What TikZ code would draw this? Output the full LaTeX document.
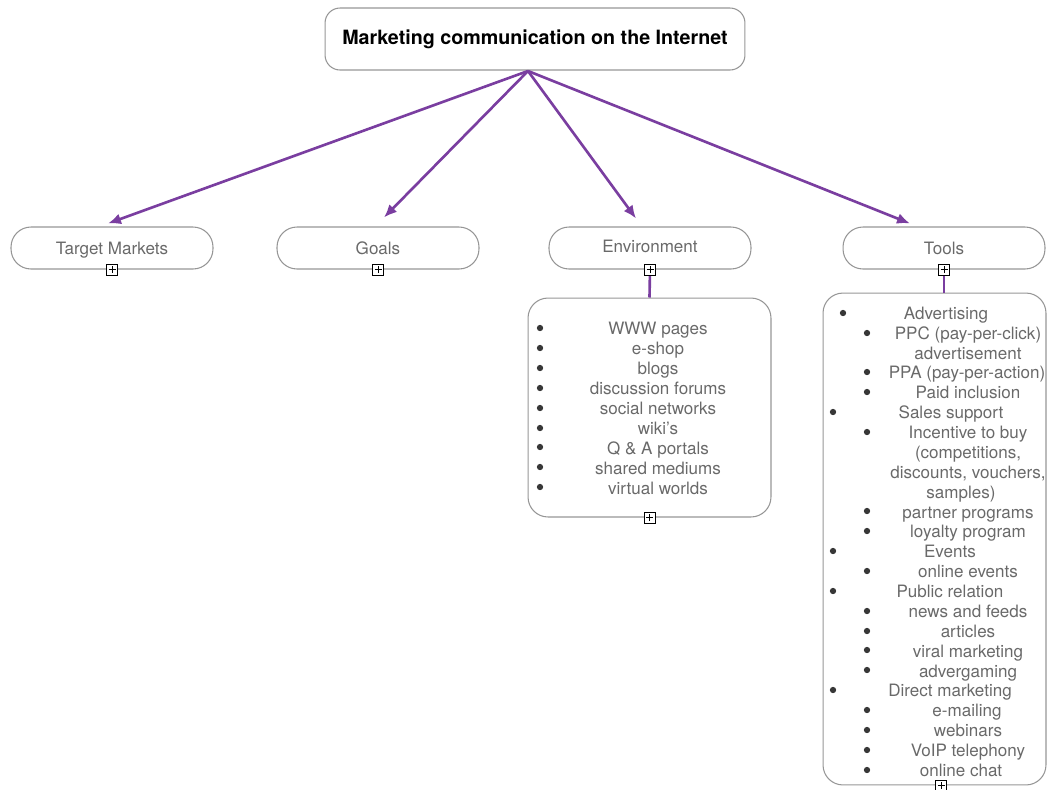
\documentclass[tikz,border=0pt]{standalone}
\usepackage{fontspec}
\setmainfont{TeX Gyre Heros}
\usetikzlibrary{arrows.meta,calc}
\definecolor{mmpurple}{RGB}{122,62,160}
\definecolor{mmtext}{RGB}{105,105,105}
\definecolor{mmline}{RGB}{150,150,150}
\definecolor{mmdot}{RGB}{55,55,55}
\begin{document}
\begin{tikzpicture}[x=0.02cm, y=-0.02cm, font=\fontsize{9.7}{11.3}\selectfont,
  rootbox/.style={draw=mmline, line width=0.6pt, rounded corners=0.3cm, minimum width=8.4cm,
                  minimum height=1.24cm, font=\fontsize{11.2}{13}\selectfont\bfseries},
  catbox/.style={draw=mmline, line width=0.6pt, rounded corners=0.4cm, minimum width=4.04cm,
                 minimum height=0.84cm, text=mmtext, text height=8pt, text depth=1pt},
  listbox/.style={draw=mmline, line width=0.6pt, rounded corners=0.4cm},
  item/.style={text=mmtext, inner sep=0pt, text height=8pt, text depth=0.8pt},
  bul/.style={fill=mmdot},
  plusbox/.style={draw=black, fill=white, minimum size=0.22cm, inner sep=0pt, line width=0.5pt,
                  path picture={\draw[line width=0.5pt]
                    ([xshift=-0.07cm]path picture bounding box.center) -- ++(0.14cm,0)
                    ([yshift=-0.07cm]path picture bounding box.center) -- ++(0,0.14cm);}},
  link/.style={draw=mmpurple, line width=1.5pt},
  arr/.style={link, -{Latex[length=0.26cm, width=0.22cm]}},
]
  \useasboundingbox (0,0) rectangle (1048,789);

  \node[rootbox] (root) at (535,39) {Marketing communication on the Internet};
  \coordinate (hub) at (528,71);

  \node[catbox] (target) at (112,248) {Target Markets};
  \node[catbox] (goals) at (378,248) {Goals};
  \node[catbox] (env) at (650,248) {};
  \node[item] (envlabel) at (650,246) {Environment};
  \node[catbox] (tools) at (944,248) {Tools};

  \draw[arr] (hub) -- ([xshift=-0.08cm,yshift=0.06cm]target.north);
  \draw[arr] (hub) -- ([xshift=0.12cm,yshift=0.18cm]goals.north);
  \draw[arr] (hub) -- ([xshift=-0.28cm,yshift=0.16cm]env.north);
  \draw[arr] (hub) -- ([xshift=-0.68cm,yshift=0.06cm]tools.north);

  \node[listbox, minimum width=4.86cm, minimum height=4.38cm] (envlist) at (649.5,407.5) {};
  \node[listbox, minimum width=4.46cm, minimum height=9.84cm] (toolslist) at (934.5,539) {};

  \draw[link] (env.south) -- (envlist.north);
  \draw[link] (tools.south) -- (tools.south |- toolslist.north);

  \node[plusbox] (targetplus) at (target.south) {};
  \node[plusbox] (goalsplus) at (goals.south) {};
  \node[plusbox] (envplus) at (env.south) {};
  \node[plusbox] (toolsplus) at (tools.south) {};
  \node[plusbox] (envlistplus) at (envlist.south) {};
  \node[plusbox] (toolslistplus) at ([xshift=0.13cm]toolslist.south) {};

  % environment
  \fill[bul] (540,328) circle (1.8pt); \node[item] (www) at (658,328.5) {WWW pages};
  \fill[bul] (540,348) circle (1.8pt); \node[item] (eshop) at (658,348.4) {e-shop};
  \fill[bul] (540,368) circle (1.8pt); \node[item] (blogs) at (658,368.3) {blogs};
  \fill[bul] (540,388) circle (1.8pt); \node[item] (forums) at (658,388.2) {discussion forums};
  \fill[bul] (540,408) circle (1.8pt); \node[item] (social) at (658,408.1) {social networks};
  \fill[bul] (540,428) circle (1.8pt); \node[item] (wiki) at (658,428.0) {wiki’s};
  \fill[bul] (540,447) circle (1.8pt); \node[item] (qa) at (658,447.9) {Q \& A portals};
  \fill[bul] (540,467) circle (1.8pt); \node[item] (shared) at (658,467.8) {shared mediums};
  \fill[bul] (540,487) circle (1.8pt); \node[item] (virtual) at (658,487.7) {virtual worlds};

  % tools
  \fill[bul] (843,313) circle (1.8pt); \node[item] (adv) at (946,313.0) {Advertising};
  \fill[bul] (867,333) circle (1.8pt); \node[item] (ppc) at (968,332.9) {PPC (pay-per-click)};
  \node[item] (ppcb) at (968,352.7) {advertisement};
  \fill[bul] (867,372) circle (1.8pt); \node[item] (ppa) at (967,372.6) {PPA (pay-per-action)};
  \fill[bul] (867,392) circle (1.8pt); \node[item] (paid) at (968,392.5) {Paid inclusion};
  \fill[bul] (833,412) circle (1.8pt); \node[item] (sales) at (951,412.4) {Sales support};
  \fill[bul] (867,432) circle (1.8pt); \node[item] (inc) at (968,432.2) {Incentive to buy};
  \node[item] (incb) at (968,452.1) {(competitions,};
  \node[item] (incc) at (968,472.0) {discounts, vouchers,};
  \node[item] (incd) at (961,491.8) {samples)};
  \fill[bul] (867,511) circle (1.8pt); \node[item] (partner) at (968,511.7) {partner programs};
  \fill[bul] (867,531) circle (1.8pt); \node[item] (loyal) at (968,531.6) {loyalty program};
  \fill[bul] (833,551) circle (1.8pt); \node[item] (events) at (950,551.4) {Events};
  \fill[bul] (867,571) circle (1.8pt); \node[item] (onev) at (968,571.3) {online events};
  \fill[bul] (833,591) circle (1.8pt); \node[item] (pr) at (950,591.2) {Public relation};
  \fill[bul] (867,611) circle (1.8pt); \node[item] (news) at (968,611.1) {news and feeds};
  \fill[bul] (867,631) circle (1.8pt); \node[item] (articles) at (968,630.9) {articles};
  \fill[bul] (867,650) circle (1.8pt); \node[item] (viral) at (968,650.8) {viral marketing};
  \fill[bul] (867,670) circle (1.8pt); \node[item] (adverg) at (968,670.7) {advergaming};
  \fill[bul] (833,690) circle (1.8pt); \node[item] (direct) at (950,690.5) {Direct marketing};
  \fill[bul] (867,710) circle (1.8pt); \node[item] (email) at (967,710.4) {e-mailing};
  \fill[bul] (867,730) circle (1.8pt); \node[item] (webin) at (968,730.3) {webinars};
  \fill[bul] (867,750) circle (1.8pt); \node[item] (voip) at (968,750.1) {VoIP telephony};
  \fill[bul] (867,770) circle (1.8pt); \node[item] (chat) at (961,770.0) {online chat};
\end{tikzpicture}
\end{document}
